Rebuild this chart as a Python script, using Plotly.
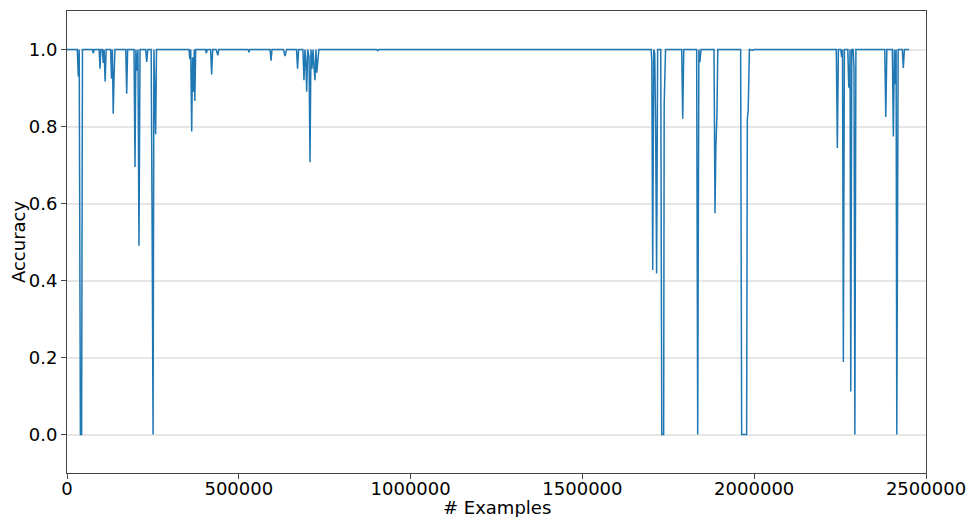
import plotly.graph_objects as go

examples = [
    0, 30000, 32900, 35500, 39000, 42500, 45000,
    74000, 76500, 79000,
    93500, 96000, 98500,
    103000, 105500, 108000, 111000, 114000,
    127000, 129500, 132000, 134500, 137000, 139500,
    171000, 173700, 176500,
    195000, 197900, 200500, 203500, 206500, 209500, 212500,
    229000, 232000, 235000,
    245000, 248000, 250500, 253000, 255500, 258000, 260500,
    355000, 357500, 360000, 362900, 365500, 368000, 370500, 372000, 374500,
    403000, 405500, 408000,
    418000, 421000, 424000,
    434000, 436500, 439000, 441500,
    527000, 529500, 532000,
    591000, 593800, 596600,
    630000, 634500, 639000,
    668000, 671000, 674000,
    686500, 689700, 692500, 695000, 697600, 700500, 704500, 707200, 710000,
    713000, 716000, 718500, 721700, 724500, 727000, 730000, 733000,
    901000, 904000, 907000,
    1700000, 1702000, 1704600, 1707500, 1710500, 1713000, 1716000, 1719000,
    1728000, 1731000, 1736500, 1738000, 1740000, 1742000,
    1789000, 1792000, 1795000,
    1832500, 1835600, 1839000, 1842000, 1845000,
    1883000, 1885900, 1888500, 1890000, 1891500, 1894000,
    1960500, 1963500, 1978000, 1980000, 1982500, 1986000, 1995000, 2000000,
    2239000, 2242000, 2245000, 2252000, 2254500, 2257000, 2259500, 2262500,
    2272500, 2275000, 2277000, 2279000, 2281000, 2284000, 2288000, 2290500,
    2293000, 2296000,
    2380000, 2383000, 2386000,
    2402000, 2405000, 2408000, 2410500, 2413000, 2415000, 2419000,
    2431000, 2434000, 2437000, 2450600,
]

accuracy = [
    1.0, 1.0, 0.93, 1.0, 0.0, 0.0, 1.0,
    1.0, 0.99, 1.0,
    1.0, 0.95, 1.0,
    1.0, 0.965, 1.0, 0.917, 1.0,
    1.0, 0.924, 1.0, 0.833, 0.93, 1.0,
    1.0, 0.885, 1.0,
    1.0, 0.695, 1.0, 0.945, 1.0, 0.49, 1.0,
    1.0, 0.968, 1.0,
    1.0, 0.5, 0.0, 1.0, 0.87, 0.78, 1.0,
    1.0, 0.975, 1.0, 0.787, 0.98, 0.89, 1.0, 0.866, 1.0,
    1.0, 0.99, 1.0,
    1.0, 0.935, 1.0,
    1.0, 0.99, 0.985, 1.0,
    1.0, 0.993, 1.0,
    1.0, 0.971, 1.0,
    1.0, 0.983, 1.0,
    1.0, 0.95, 1.0,
    1.0, 0.92, 1.0, 0.97, 0.89, 1.0, 0.98, 0.707, 1.0,
    0.95, 1.0, 0.96, 0.92, 1.0, 0.94, 0.97, 1.0,
    1.0, 0.997, 1.0,
    1.0, 0.97, 0.427, 1.0, 0.99, 0.81, 0.418, 1.0,
    1.0, 0.0, 0.0, 0.857, 0.94, 1.0,
    1.0, 0.82, 1.0,
    1.0, 0.0, 1.0, 0.967, 1.0,
    1.0, 0.575, 0.75, 0.8, 0.826, 1.0,
    1.0, 0.0, 0.0, 0.82, 0.84, 1.0, 0.998, 1.0,
    1.0, 0.744, 1.0, 1.0, 0.98, 1.0, 0.188, 1.0,
    1.0, 0.905, 0.9, 1.0, 0.112, 1.0, 1.0, 0.95,
    0.0, 1.0,
    1.0, 0.825, 1.0,
    1.0, 0.774, 1.0, 0.91, 1.0, 0.0, 1.0,
    1.0, 0.952, 1.0, 1.0,
]

x_ticks = [0, 500000, 1000000, 1500000, 2000000, 2500000]
y_ticks = [0.0, 0.2, 0.4, 0.6, 0.8, 1.0]

fig = go.Figure()
fig.add_trace(go.Scatter(
    x=examples, y=accuracy, mode="lines",
    line=dict(color="#1f77b4", width=1.5),
    showlegend=False,
))

axis_common = dict(
    showline=True, mirror=True, linecolor="#444", linewidth=1,
    ticks="outside", ticklen=5, tickcolor="#444", tickwidth=1,
    zeroline=False, automargin=False,
    tickfont=dict(family="DejaVu Sans", size=18, color="black"),
)

fig.update_layout(
    width=969, height=517,
    margin=dict(l=67, r=43, t=11, b=44),
    paper_bgcolor="white", plot_bgcolor="white",
    font=dict(family="DejaVu Sans", size=18, color="black"),
    xaxis=dict(
        range=[0, 2500000], tickvals=x_ticks,
        ticktext=[str(v) for v in x_ticks],
        showgrid=False, ticklabelstandoff=-6,
        **axis_common,
    ),
    yaxis=dict(
        range=[-0.1, 1.1], tickvals=y_ticks,
        ticktext=[f"{v:.1f}" for v in y_ticks],
        showgrid=True, gridcolor="#e6e6e6", gridwidth=1.5,
        **axis_common,
    ),
    annotations=[
        dict(text="# Examples", xref="paper", yref="paper",
             x=0.5, y=-0.074, xanchor="center", yanchor="middle",
             showarrow=False, font=dict(size=18)),
        dict(text="Accuracy", xref="paper", yref="paper",
             x=-0.057, y=0.5, xanchor="center", yanchor="middle",
             textangle=-90, showarrow=False, font=dict(size=18)),
    ],
)

fig.write_html("out.html", config={"displayModeBar": False})

# remove the browser's default page margin so the figure sits at the top-left
with open("out.html", "r", encoding="utf-8") as f:
    html = f.read()
html = html.replace("<head>", "<head><style>html,body{margin:0;padding:0;overflow:hidden;}</style>", 1)
with open("out.html", "w", encoding="utf-8") as f:
    f.write(html)
